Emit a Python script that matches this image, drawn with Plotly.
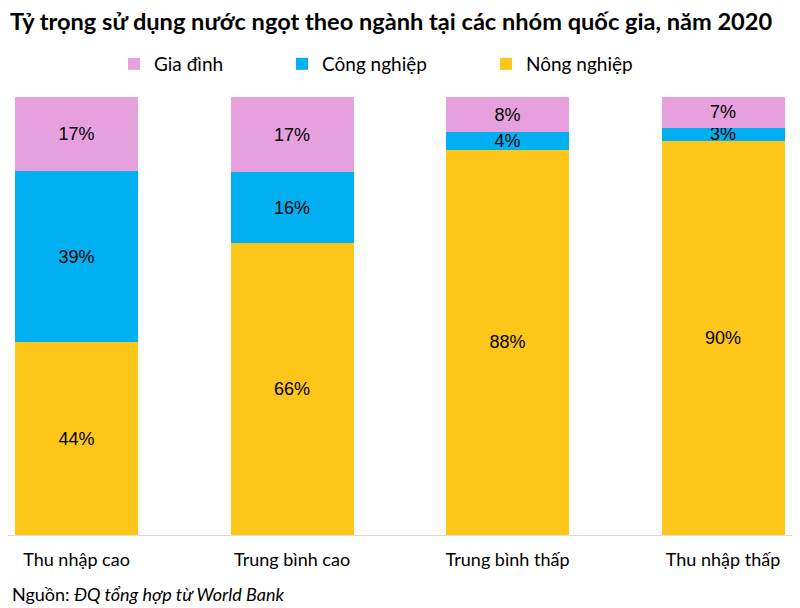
import plotly.graph_objects as go

categories = ["Thu nhập cao", "Trung bình cao", "Trung bình thấp", "Thu nhập thấp"]
nong_nghiep = [44, 66, 88, 90]
cong_nghiep = [39, 16, 4, 3]
gia_dinh = [17, 17, 8, 7]

series = [
    ("Nông nghiệp", nong_nghiep, "#FFC61A", "legend3"),
    ("Công nghiệp", cong_nghiep, "#00B0F0", "legend2"),
    ("Gia đình", gia_dinh, "#E5A0DD", "legend"),
]

W, H = 792, 600
PT, PB = 89, 527          # plot top / bottom in figure pixels
PH = PB - PT

fig = go.Figure()
for name, vals, color, leg in series:
    fig.add_trace(go.Bar(
        x=list(range(len(categories))), y=vals, name=name,
        marker=dict(color=color, line=dict(width=0)),
        width=0.571,
        text=[f"{v}%" for v in vals],
        textposition="inside", insidetextanchor="middle",
        textangle=0,
        textfont=dict(family="Liberation Sans, Arial", size=18, color="#000000"),
        legend=leg,
    ))

def leg_cfg(px):
    return dict(x=px / W, xanchor="left", y=(PB - 56) / PH, yanchor="middle",
                orientation="h", font=dict(family="Lato", size=19, color="#000000"),
                bgcolor="rgba(0,0,0,0)", borderwidth=0, itemwidth=30)

fig.update_layout(
    width=W, height=H,
    margin=dict(l=0, r=0, t=PT, b=H - PB),
    barmode="stack", barnorm="percent",
    paper_bgcolor="white", plot_bgcolor="white",
    uniformtext=dict(minsize=18, mode="show"),
    title=dict(text="<b>Tỷ trọng sử dụng nước ngọt theo ngành tại các nhóm quốc gia, năm 2020</b>",
               x=2 / W, xanchor="left", xref="paper",
               y=1 - 14 / H, yanchor="middle",
               font=dict(family="Lato", size=23.6, color="#000000")),
    legend=leg_cfg(106),
    legend2=leg_cfg(274),
    legend3=leg_cfg(478),
    xaxis=dict(range=[-0.318, 3.357], tickmode="array",
               tickvals=list(range(len(categories))), ticktext=categories,
               showline=True, linecolor="#D9D9D9", linewidth=1,
               showgrid=False, zeroline=False, ticks="",
               ticklabelstandoff=8,
               tickfont=dict(family="Lato", size=18, color="#000000")),
    yaxis=dict(range=[0, 100], showticklabels=False, showgrid=False,
               zeroline=False, showline=False),
    showlegend=True,
    annotations=[dict(text="Nguồn: <i>ĐQ tổng hợp từ World Bank</i>",
                      xref="paper", yref="paper", x=2 / W, xanchor="left",
                      y=-(586 - PB) / PH, yanchor="middle", showarrow=False,
                      font=dict(family="Lato", size=18, color="#000000"))],
)

fig.write_html("out.html")
